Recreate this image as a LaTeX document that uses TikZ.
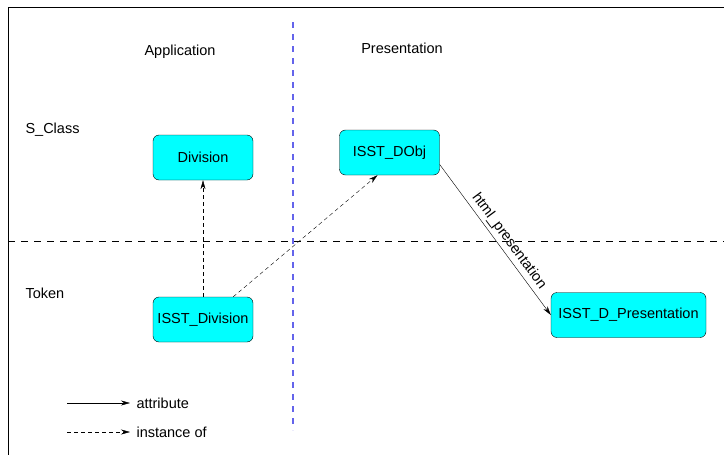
\documentclass[tikz,border=0pt]{standalone}
\usepackage{fontspec}
\setmainfont{Liberation Sans}
\usetikzlibrary{positioning}
\usetikzlibrary{arrows.meta}
\definecolor{boxcyan}{RGB}{0,255,255}
\definecolor{laneblue}{RGB}{100,100,235}

\begin{document}
\begin{tikzpicture}[x=1pt, y=-1pt, font=\fontsize{14.5}{17}\selectfont,
    box/.style={draw, fill=boxcyan, rounded corners=6pt, minimum width=100pt, minimum height=45pt, inner sep=2pt},
    tip/.style={-{Stealth[length=9pt,width=5pt]}},
    instline/.style={dash pattern=on 4pt off 3pt}]

      \useasboundingbox (0,0) rectangle (724,455);
      \draw[semithick] (724,7) -- (8,7) -- (8,455);

      % swimlanes
      \draw[laneblue, line width=1.1pt, dash pattern=on 6pt off 6pt] (293,22) -- (293,430);
      \draw[dash pattern=on 7pt off 6pt] (8,241) -- (724,241);

      \node (app) at (180,52) {Application};
      \node (pres) at (402,48) {Presentation};
      \node[anchor=west] (sclass) at (22,130) {S\_Class};
      \node[anchor=west] (token) at (22,293) {Token};

      \node[box] (div) at (203,157.5) {Division};
      \node[box] (dobj) at (389.5,152.5) {ISST\_DObj};
      \node[box] (isstdiv) at (203,319.5) {ISST\_Division};
      \node[box, minimum width=155pt] (dpres) at (628.5,315) {ISST\_D\_Presentation};

      \draw[tip, instline] (isstdiv) -- (div);
      \draw[tip, instline] ([xshift=-20pt]isstdiv.north east) -- ([xshift=-12pt]dobj.south);
      \draw[tip] ([yshift=-12pt]dobj.east) -- node[sloped, above, pos=0.55] (lbl) {html\_presentation} (dpres.west);

      % legend
      \coordinate (l1) at (67,403);
      \coordinate (l2) at (130,403);
      \coordinate (l3) at (67,432);
      \coordinate (l4) at (130,432);
      \draw[tip] (l1) -- (l2) node[right, xshift=3pt] (attr) {attribute};
      \draw[tip, instline] (l3) -- (l4) node[right, xshift=3pt] (inst) {instance of};

\end{tikzpicture}
\end{document}
